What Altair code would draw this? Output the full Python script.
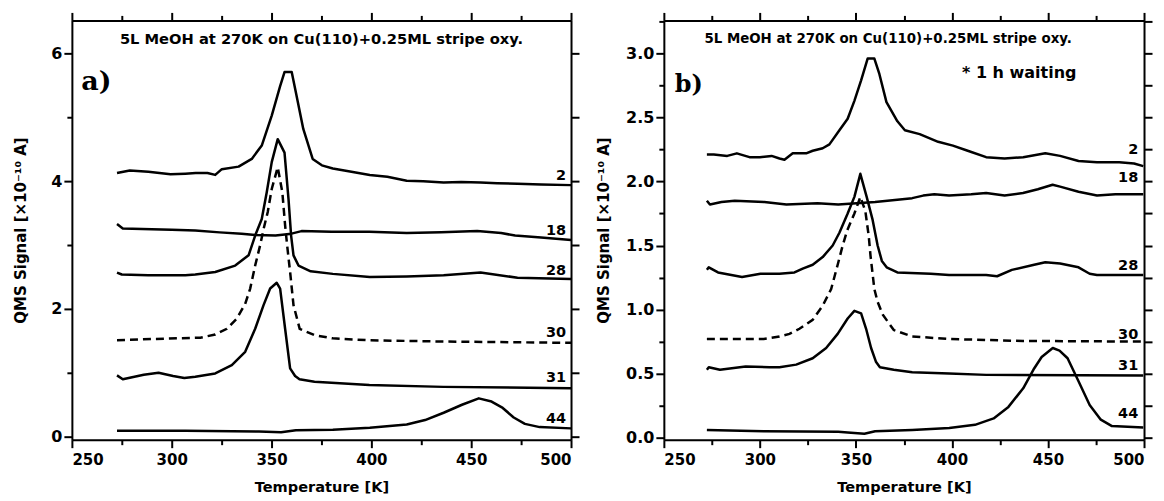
import altair as alt
import pandas as pd

# ---------------- data: panel a) ----------------
a_series = ["2", "18", "28", "30", "31", "44"]
a2_T = [272.6, 279.0, 288.3, 299.4, 306.8, 312, 317.9, 321.8, 325.1, 333.5, 340.1, 345.1, 350.1, 354.3, 356.5, 360.1, 362.2, 365.9, 370.6, 375.2, 380.7, 390.0, 399.2, 408, 417.7, 426, 436.2, 445, 454.7, 463, 473.2, 485, 500]
a2_V = [4.13, 4.17, 4.15, 4.11, 4.12, 4.13, 4.13, 4.10, 4.19, 4.23, 4.35, 4.56, 5.03, 5.49, 5.71, 5.71, 5.39, 4.82, 4.35, 4.25, 4.20, 4.15, 4.10, 4.07, 4.01, 4.00, 3.98, 3.99, 3.98, 3.97, 3.96, 3.95, 3.94]
a18_T = [272.6, 275.5, 290, 300, 311.8, 324, 335, 341.8, 352, 360, 365, 380, 399, 417.7, 435, 453, 465, 472, 485, 500]
a18_V = [3.33, 3.26, 3.25, 3.24, 3.23, 3.20, 3.18, 3.16, 3.15, 3.18, 3.22, 3.21, 3.21, 3.19, 3.20, 3.22, 3.19, 3.15, 3.12, 3.08]
a28_T = [272.6, 275, 288.3, 306.8, 311.8, 321.8, 331.8, 338.5, 341.8, 345.1, 347.6, 350.1, 353.1, 356.5, 358.5, 359.8, 361.0, 363.5, 369.6, 380.7, 399.2, 417.7, 436.2, 454.7, 473.2, 500]
a28_V = [2.57, 2.54, 2.53, 2.53, 2.54, 2.58, 2.68, 2.84, 3.15, 3.41, 3.83, 4.30, 4.66, 4.45, 3.72, 3.15, 2.84, 2.68, 2.59, 2.55, 2.50, 2.51, 2.53, 2.57, 2.49, 2.47]
a30_T = [272.6, 290, 314.3, 321.8, 327.6, 332.6, 336.8, 339.3, 341.8, 344.3, 346.0, 348.1, 350.1, 353.1, 355.4, 356.8, 357.8, 359.3, 361.0, 364.1, 371.5, 380.7, 399, 436, 500]
a30_V = [1.51, 1.53, 1.55, 1.60, 1.69, 1.85, 2.08, 2.32, 2.68, 3.00, 3.25, 3.52, 3.88, 4.22, 3.83, 3.31, 3.00, 2.58, 2.06, 1.69, 1.59, 1.54, 1.51, 1.49, 1.47]
a31_T = [272.6, 275.5, 286, 293.4, 300.7, 306.3, 311.8, 321.8, 330.1, 336.8, 341.8, 346.0, 349.3, 352.6, 354.3, 356.8, 359.3, 361.8, 364, 371.5, 399, 436, 500]
a31_V = [0.96, 0.90, 0.97, 1.00, 0.95, 0.92, 0.94, 0.99, 1.12, 1.33, 1.69, 2.06, 2.32, 2.41, 2.32, 1.69, 1.07, 0.95, 0.90, 0.86, 0.81, 0.78, 0.76]
a44_T = [272.6, 306.8, 343.7, 354.8, 362.2, 380.7, 399.2, 417.7, 426.9, 436.2, 445.4, 453.8, 460.2, 465.8, 471.3, 476.9, 484.3, 500]
a44_V = [0.094, 0.094, 0.08, 0.07, 0.10, 0.11, 0.14, 0.19, 0.26, 0.375, 0.50, 0.60, 0.55, 0.45, 0.30, 0.20, 0.15, 0.13]

# ---------------- data: panel b) ----------------
b_series = ["2", "18", "28", "30", "31", "44"]
b2_T = [272.4, 276, 283.0, 288, 294.6, 300, 306.1, 310.2, 312.8, 317.1, 324.1, 327.5, 332.7, 336.2, 341.4, 345.7, 349.2, 352.7, 356.1, 359.6, 362.2, 365.9, 371.6, 375.5, 383.2, 392.8, 400.5, 408.2, 417.8, 427.4, 437.1, 448.6, 456.3, 465.9, 475.5, 487.1, 494.8, 499.6]
b2_V = [2.21, 2.21, 2.20, 2.22, 2.19, 2.19, 2.20, 2.18, 2.17, 2.22, 2.22, 2.24, 2.26, 2.29, 2.40, 2.49, 2.63, 2.79, 2.96, 2.96, 2.84, 2.62, 2.47, 2.40, 2.37, 2.31, 2.28, 2.24, 2.19, 2.18, 2.19, 2.22, 2.20, 2.16, 2.15, 2.15, 2.14, 2.12]
b18_T = [272.4, 274, 280, 286.9, 302.3, 313.8, 330, 340.8, 350.4, 360, 379.3, 385, 390.8, 398.5, 410, 417.8, 427.4, 437, 444.7, 452.4, 456.3, 465.9, 475.5, 485.1, 499.6]
b18_V = [1.85, 1.82, 1.84, 1.85, 1.84, 1.82, 1.83, 1.82, 1.83, 1.84, 1.87, 1.89, 1.90, 1.89, 1.90, 1.91, 1.89, 1.91, 1.94, 1.975, 1.96, 1.92, 1.89, 1.90, 1.90]
b28_T = [272.4, 273.4, 278.2, 290.7, 300.3, 310.2, 318, 322.3, 327.5, 332.7, 337.9, 341.4, 345.7, 349.2, 352.3, 355.6, 358.7, 361.3, 363.5, 366, 371.6, 388.9, 398.5, 417.8, 423.5, 431.2, 442.8, 448.6, 456.3, 465.9, 471.7, 475.5, 499.6]
b28_V = [1.31, 1.33, 1.29, 1.255, 1.28, 1.28, 1.29, 1.32, 1.35, 1.41, 1.50, 1.60, 1.75, 1.88, 2.06, 1.88, 1.70, 1.50, 1.38, 1.33, 1.29, 1.28, 1.27, 1.27, 1.26, 1.31, 1.35, 1.37, 1.36, 1.33, 1.28, 1.27, 1.27]
b30_T = [272.4, 290, 302, 310.2, 315.4, 320.6, 327.5, 332.7, 337.1, 340.5, 343.1, 345.5, 349.2, 352.3, 354.9, 356.7, 357.6, 359.6, 361.3, 364, 369.7, 379.3, 398.5, 437, 499.6]
b30_V = [0.77, 0.77, 0.77, 0.79, 0.81, 0.85, 0.92, 1.03, 1.16, 1.35, 1.50, 1.62, 1.75, 1.88, 1.77, 1.57, 1.42, 1.16, 1.06, 0.96, 0.84, 0.79, 0.77, 0.755, 0.75]
b31_T = [272.4, 273.4, 279.2, 292.6, 305, 310.2, 318.9, 327.5, 334.5, 340.5, 345.7, 349.2, 352.7, 355.3, 357.9, 360.5, 362.5, 369.7, 379.3, 398.5, 417.8, 499.6]
b31_V = [0.53, 0.55, 0.53, 0.555, 0.55, 0.55, 0.57, 0.62, 0.70, 0.81, 0.93, 0.99, 0.97, 0.85, 0.70, 0.59, 0.55, 0.53, 0.51, 0.50, 0.49, 0.485]
b44_T = [272.4, 302, 340.8, 345.7, 354.4, 360, 379.3, 398.6, 412, 421.7, 429.4, 437.1, 442.8, 446.7, 452.5, 456, 460.2, 465.9, 471.7, 477.5, 483.3, 499.6]
b44_V = [0.06, 0.05, 0.045, 0.04, 0.03, 0.05, 0.06, 0.076, 0.10, 0.15, 0.24, 0.385, 0.54, 0.63, 0.70, 0.68, 0.62, 0.44, 0.255, 0.14, 0.09, 0.08]

title_text = "5L MeOH at 270K on Cu(110)+0.25ML stripe oxy."
x_title = "Temperature [K]"
y_title = "QMS Signal [\u00d710\u207b\u00b9\u2070 A]"
x_major = [250, 300, 350, 400, 450, 500]
x_minor = [275, 325, 375, 425, 475]
a_y_major = [0, 2, 4, 6]
a_y_minor = [1, 3, 5]
b_y_major = [0.0, 0.5, 1.0, 1.5, 2.0, 2.5, 3.0]
b_y_minor = [0.25, 0.75, 1.25, 1.75, 2.25, 2.75, 3.25]

FONT = "DejaVu Sans"


def long_df(series, Ts, Vs):
    frames = []
    for s, t, v in zip(series, Ts, Vs):
        frames.append(pd.DataFrame({"T": t, "V": v, "series": s}))
    return pd.concat(frames, ignore_index=True)


def panel(series, Ts, Vs, ydom, ymaj, ymin, yfmt, width, height, lab_px,
          ytitle_pad, title_xy, title_size, letter, letter_xy, letter_size, extra=None):
    df = long_df(series, Ts, Vs)
    xs = alt.Scale(domain=[250, 500], nice=False, zero=False)
    ys = alt.Scale(domain=ydom, nice=False, zero=False)
    ppu = height / (ydom[1] - ydom[0])
    corners = pd.DataFrame({"T": [250, 500], "V": ydom})

    def ax(**kw):
        base = dict(grid=False, domainColor="black", tickColor="black", domainWidth=2, tickWidth=2,
                    labelColor="black", titleColor="black", labelFont=FONT, titleFont=FONT,
                    labelFontWeight="bold", titleFontWeight="bold")
        base.update(kw)
        return alt.Axis(**base)

    ax_layers = [
        alt.Chart(corners).mark_point(opacity=0).encode(
            x=alt.X("T:Q", scale=xs, axis=ax(orient="bottom", values=x_major, tickSize=8, labelPadding=5,
                                             format="d", labelFontSize=15, title=x_title, titleFontSize=14.6,
                                             titlePadding=12)),
            y=alt.Y("V:Q", scale=ys, axis=ax(orient="left", values=ymaj, tickSize=8, labelPadding=2,
                                             format=yfmt, labelFontSize=16, title=y_title, titleFontSize=15,
                                             titlePadding=ytitle_pad))),
        alt.Chart(corners).mark_point(opacity=0).encode(
            x=alt.X("T:Q", scale=xs, axis=ax(orient="bottom", values=x_minor, tickSize=5, labels=False,
                                             domain=False, title=None)),
            y=alt.Y("V:Q", scale=ys, axis=ax(orient="left", values=ymin, tickSize=5, labels=False,
                                             domain=False, title=None))),
        alt.Chart(corners).mark_point(opacity=0).encode(
            x=alt.X("T:Q", scale=xs, axis=ax(orient="top", values=x_major, tickSize=8, labels=False,
                                             title=None)),
            y=alt.Y("V:Q", scale=ys, axis=ax(orient="right", values=sorted(ymaj + ymin), tickSize=8,
                                             labels=False, title=None))),
        alt.Chart(corners).mark_point(opacity=0).encode(
            x=alt.X("T:Q", scale=xs, axis=ax(orient="top", values=x_minor, tickSize=5, labels=False,
                                             domain=False, title=None)),
            y=alt.Y("V:Q", scale=ys, axis=None)),
    ]

    solid = alt.Chart(df).transform_filter(alt.datum.series != "30").mark_line(
        color="black", strokeWidth=2.5, strokeJoin="round").encode(
        x=alt.X("T:Q", scale=xs, axis=None), y=alt.Y("V:Q", scale=ys, axis=None),
        detail="series:N")
    dashed = alt.Chart(df).transform_filter(alt.datum.series == "30").mark_line(
        color="black", strokeWidth=2.5, strokeDash=[8, 5]).encode(
        x=alt.X("T:Q", scale=xs, axis=None), y=alt.Y("V:Q", scale=ys, axis=None))

    # end labels placed above the last point of each curve
    lab = pd.DataFrame({
        "series": series,
        "T": [t[-1] for t in Ts],
        "V": [v[-1] + p / ppu for v, p in zip(Vs, lab_px)],
    })
    labels = alt.Chart(lab).mark_text(align="right", baseline="alphabetic", dx=-5, font=FONT,
                                      fontWeight="bold", fontSize=14.5, color="black").encode(
        x=alt.X("T:Q", scale=xs, axis=None), y=alt.Y("V:Q", scale=ys, axis=None), text="series:N")

    one = pd.DataFrame({"k": [0]})
    ttl = alt.Chart(one).mark_text(text=title_text, align="center", baseline="alphabetic", font=FONT,
                                   fontWeight="bold", fontSize=title_size, color="black").encode(
        x=alt.value(title_xy[0]), y=alt.value(title_xy[1]))
    let = alt.Chart(one).mark_text(text=letter, align="left", baseline="alphabetic", font="DejaVu Serif",
                                   fontWeight="bold", fontSize=letter_size, color="black").encode(
        x=alt.value(letter_xy[0]), y=alt.value(letter_xy[1]))
    layers = ax_layers + [solid, dashed, labels, ttl, let]
    if extra is not None:
        txt, xy, size = extra
        layers.append(alt.Chart(one).mark_text(text=txt, align="left", baseline="alphabetic", font=FONT,
                                               fontWeight="bold", fontSize=size, color="black").encode(
            x=alt.value(xy[0]), y=alt.value(xy[1])))
    return alt.layer(*layers).resolve_axis(x="independent", y="independent").properties(
        width=width, height=height)


left = panel(a_series, [a2_T, a18_T, a28_T, a30_T, a31_T, a44_T],
             [a2_V, a18_V, a28_V, a30_V, a31_V, a44_V],
             [-0.047, 6.52], a_y_major, a_y_minor, "d", 500, 420,
             [5, 5, 4, 6, 6, 5], 22, (250, 23.7), 14.7, "a)", (9.3, 69.3), 27)
right = panel(b_series, [b2_T, b18_T, b28_T, b30_T, b31_T, b44_T],
              [b2_V, b18_V, b28_V, b30_V, b31_V, b44_V],
              [-0.016, 3.258], b_y_major, b_y_minor, ".1f", 481, 420,
              [12, 12, 5, 3, 6, 9], 14, (224.7, 23), 13.4, "b)", (11, 72), 24,
              extra=("*  1 h waiting", (298.7, 58), 16))

chart = alt.hconcat(left, right, spacing=93, bounds="flush").properties(
    padding={"left": 5, "top": 2, "right": 2, "bottom": 2}
).configure_view(stroke=None).configure(background="white")

chart.save("out.html", embed_options={"renderer": "svg", "actions": False})
